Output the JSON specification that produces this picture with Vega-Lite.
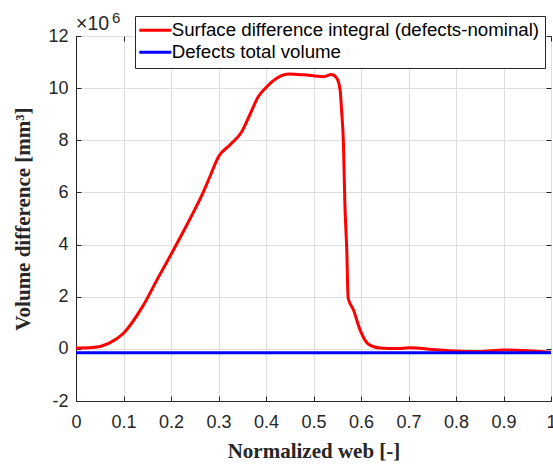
{
  "$schema": "https://vega.github.io/schema/vega-lite/v6.json",
  "width": 475,
  "height": 365,
  "autosize": "none",
  "padding": {"left": 76, "top": 36, "right": 2, "bottom": 64},
  "background": "white",
  "config": {
    "view": {"stroke": "#262626", "strokeWidth": 1},
    "axis": {
      "domainColor": "#262626",
      "tickColor": "#262626",
      "tickSize": -5,
      "labelFont": "Liberation Sans",
      "labelFontSize": 18,
      "labelColor": "#262626",
      "titleFont": "Liberation Serif",
      "titleFontWeight": "bold",
      "titleFontSize": 21,
      "titleColor": "#262626",
      "gridColor": "#dedede",
      "gridWidth": 1
    }
  },
  "datasets": {
    "curves": [
      {"web": 0, "vol": 0.03, "series": "Surface difference integral (defects-nominal)"},
      {"web": 0.035, "vol": 0.05, "series": "Surface difference integral (defects-nominal)"},
      {"web": 0.07, "vol": 0.22, "series": "Surface difference integral (defects-nominal)"},
      {"web": 0.1, "vol": 0.6, "series": "Surface difference integral (defects-nominal)"},
      {"web": 0.14, "vol": 1.62, "series": "Surface difference integral (defects-nominal)"},
      {"web": 0.175, "vol": 2.8, "series": "Surface difference integral (defects-nominal)"},
      {"web": 0.2, "vol": 3.62, "series": "Surface difference integral (defects-nominal)"},
      {"web": 0.239, "vol": 4.95, "series": "Surface difference integral (defects-nominal)"},
      {"web": 0.267, "vol": 5.97, "series": "Surface difference integral (defects-nominal)"},
      {"web": 0.282, "vol": 6.61, "series": "Surface difference integral (defects-nominal)"},
      {"web": 0.3, "vol": 7.37, "series": "Surface difference integral (defects-nominal)"},
      {"web": 0.324, "vol": 7.82, "series": "Surface difference integral (defects-nominal)"},
      {"web": 0.349, "vol": 8.33, "series": "Surface difference integral (defects-nominal)"},
      {"web": 0.366, "vol": 8.98, "series": "Surface difference integral (defects-nominal)"},
      {"web": 0.384, "vol": 9.68, "series": "Surface difference integral (defects-nominal)"},
      {"web": 0.4, "vol": 10.02, "series": "Surface difference integral (defects-nominal)"},
      {"web": 0.4225, "vol": 10.38, "series": "Surface difference integral (defects-nominal)"},
      {"web": 0.45, "vol": 10.54, "series": "Surface difference integral (defects-nominal)"},
      {"web": 0.479, "vol": 10.51, "series": "Surface difference integral (defects-nominal)"},
      {"web": 0.503, "vol": 10.47, "series": "Surface difference integral (defects-nominal)"},
      {"web": 0.521, "vol": 10.44, "series": "Surface difference integral (defects-nominal)"},
      {"web": 0.538, "vol": 10.52, "series": "Surface difference integral (defects-nominal)"},
      {"web": 0.549, "vol": 10.38, "series": "Surface difference integral (defects-nominal)"},
      {"web": 0.556, "vol": 9.93, "series": "Surface difference integral (defects-nominal)"},
      {"web": 0.559, "vol": 9.17, "series": "Surface difference integral (defects-nominal)"},
      {"web": 0.563, "vol": 7.89, "series": "Surface difference integral (defects-nominal)"},
      {"web": 0.566, "vol": 5.6, "series": "Surface difference integral (defects-nominal)"},
      {"web": 0.57, "vol": 3.8, "series": "Surface difference integral (defects-nominal)"},
      {"web": 0.573, "vol": 1.94, "series": "Surface difference integral (defects-nominal)"},
      {"web": 0.584, "vol": 1.5, "series": "Surface difference integral (defects-nominal)"},
      {"web": 0.598, "vol": 0.73, "series": "Surface difference integral (defects-nominal)"},
      {"web": 0.615, "vol": 0.19, "series": "Surface difference integral (defects-nominal)"},
      {"web": 0.64, "vol": 0.03, "series": "Surface difference integral (defects-nominal)"},
      {"web": 0.675, "vol": 0.01, "series": "Surface difference integral (defects-nominal)"},
      {"web": 0.703, "vol": 0.04, "series": "Surface difference integral (defects-nominal)"},
      {"web": 0.75, "vol": -0.02, "series": "Surface difference integral (defects-nominal)"},
      {"web": 0.8, "vol": -0.08, "series": "Surface difference integral (defects-nominal)"},
      {"web": 0.85, "vol": -0.1, "series": "Surface difference integral (defects-nominal)"},
      {"web": 0.9, "vol": -0.04, "series": "Surface difference integral (defects-nominal)"},
      {"web": 0.95, "vol": -0.07, "series": "Surface difference integral (defects-nominal)"},
      {"web": 1.0, "vol": -0.13, "series": "Surface difference integral (defects-nominal)"},
      {"web": 0, "vol": -0.15, "series": "Defects total volume"},
      {"web": 1.0, "vol": -0.15, "series": "Defects total volume"}
    ],
    "note": [{"web": 0, "vol": 12, "t": "×10", "sup": "6"}]
  },
  "layer": [
    {
      "data": {"name": "curves"},
      "mark": {"type": "line", "strokeWidth": 3, "interpolate": "monotone", "clip": true},
      "encoding": {
        "x": {
          "field": "web", "type": "quantitative",
          "scale": {"domain": [0, 1], "nice": false},
          "axis": {
            "orient": "bottom", "title": "Normalized web [-]",
            "values": [0, 0.1, 0.2, 0.3, 0.4, 0.5, 0.6, 0.7, 0.8, 0.9, 1],
            "labelExpr": "'' + datum.value", "labelPadding": 17, "titlePadding": 9,
            "labelFlush": false
          }
        },
        "y": {
          "field": "vol", "type": "quantitative",
          "scale": {"domain": [-2, 12], "nice": false, "zero": false},
          "axis": {
            "orient": "left", "title": "Volume difference [mm³]",
            "values": [-2, 0, 2, 4, 6, 8, 10, 12],
            "labelExpr": "'' + datum.value", "labelPadding": 13, "titlePadding": 14
          }
        },
        "color": {
          "field": "series", "type": "nominal",
          "scale": {
            "domain": ["Surface difference integral (defects-nominal)", "Defects total volume"],
            "range": ["#ff0000", "#0000ff"]
          },
          "legend": {
            "orient": "none", "legendX": 59, "legendY": -20, "title": null,
            "symbolType": "M-3.2,0H3.2", "symbolSize": 100, "symbolStrokeWidth": 3,
            "symbolOffset": 6,
            "labelFont": "Liberation Sans", "labelFontSize": 18.7, "labelColor": "#000000",
            "labelLimit": 600, "labelOffset": 7, "rowPadding": 2,
            "strokeColor": "#262626", "fillColor": "white", "padding": 5
          }
        }
      }
    },
    {
      "data": {"name": "curves"},
      "mark": {"type": "line", "opacity": 0},
      "encoding": {
        "x": {
          "field": "web", "type": "quantitative",
          "axis": {
            "orient": "top", "title": null, "labels": false, "grid": false, "domain": false,
            "values": [0, 0.1, 0.2, 0.3, 0.4, 0.5, 0.6, 0.7, 0.8, 0.9, 1]
          }
        },
        "y": {
          "field": "vol", "type": "quantitative",
          "axis": {
            "orient": "right", "title": null, "labels": false, "grid": false, "domain": false,
            "values": [-2, 0, 2, 4, 6, 8, 10, 12]
          }
        }
      }
    },
    {
      "data": {"name": "note"},
      "mark": {"type": "text", "align": "left", "baseline": "alphabetic", "dx": 0, "dy": -6, "font": "Liberation Sans", "fontSize": 19.5, "color": "#262626"},
      "encoding": {
        "x": {"field": "web", "type": "quantitative", "axis": null},
        "y": {"field": "vol", "type": "quantitative", "axis": null},
        "text": {"field": "t"}
      }
    },
    {
      "data": {"name": "note"},
      "mark": {"type": "text", "align": "left", "baseline": "alphabetic", "dx": 36, "dy": -13, "font": "Liberation Sans", "fontSize": 15, "color": "#262626"},
      "encoding": {
        "x": {"field": "web", "type": "quantitative", "axis": null},
        "y": {"field": "vol", "type": "quantitative", "axis": null},
        "text": {"field": "sup"}
      }
    }
  ],
  "resolve": {"axis": {"x": "independent", "y": "independent"}}
}
